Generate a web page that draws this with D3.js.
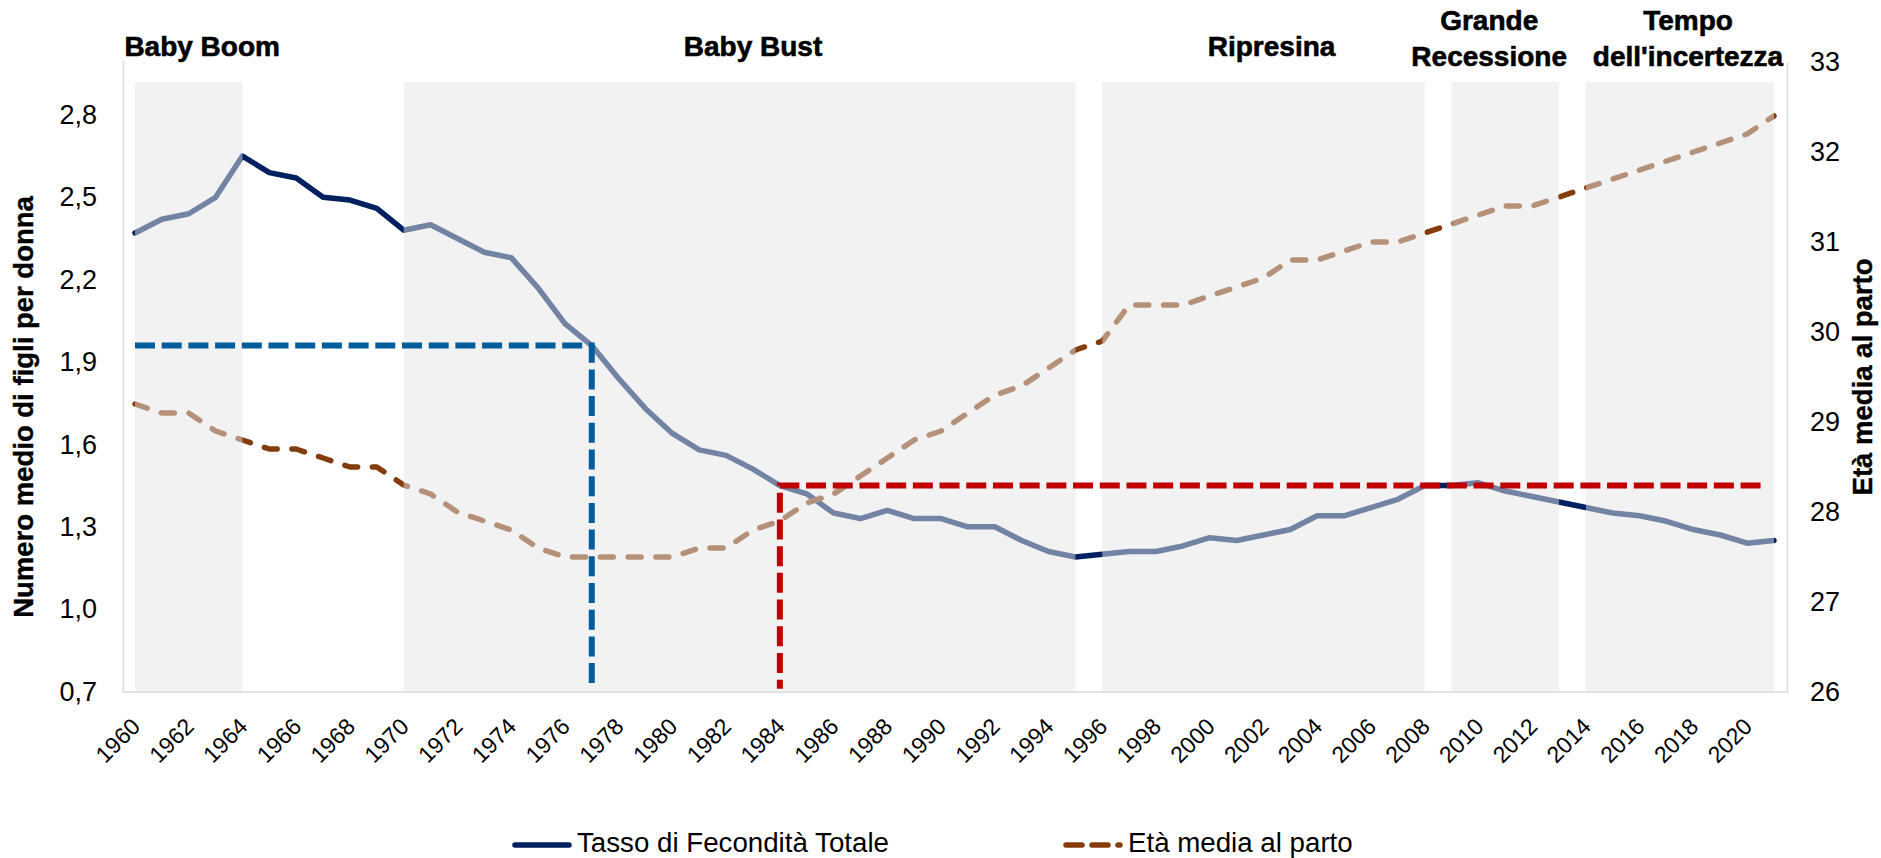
<!DOCTYPE html>
<html>
<head>
<meta charset="utf-8">
<script src="https://cdn.jsdelivr.net/npm/d3@7/dist/d3.min.js"></script>
<style>
  body { margin: 0; background: #fff; }
  svg { display: block; font-family: "Liberation Sans", Arial, sans-serif; }
</style>
</head>
<body>
<div id="chart"></div>
<script>
const years = [1960, 1961, 1962, 1963, 1964, 1965, 1966, 1967, 1968, 1969,
               1970, 1971, 1972, 1973, 1974, 1975, 1976, 1977, 1978, 1979,
               1980, 1981, 1982, 1983, 1984, 1985, 1986, 1987, 1988, 1989,
               1990, 1991, 1992, 1993, 1994, 1995, 1996, 1997, 1998, 1999,
               2000, 2001, 2002, 2003, 2004, 2005, 2006, 2007, 2008, 2009,
               2010, 2011, 2012, 2013, 2014, 2015, 2016, 2017, 2018, 2019,
               2020, 2021];

// Tasso di Fecondità Totale (asse sinistro)
const tfr = [2.37, 2.42, 2.44, 2.50, 2.65, 2.59, 2.57, 2.50, 2.49, 2.46,
             2.38, 2.40, 2.35, 2.30, 2.28, 2.17, 2.04, 1.96, 1.84, 1.73,
             1.64, 1.58, 1.56, 1.51, 1.45, 1.42, 1.35, 1.33, 1.36, 1.33,
             1.33, 1.30, 1.30, 1.25, 1.21, 1.19, 1.20, 1.21, 1.21, 1.23,
             1.26, 1.25, 1.27, 1.29, 1.34, 1.34, 1.37, 1.40, 1.45, 1.45,
             1.46, 1.43, 1.41, 1.39, 1.37, 1.35, 1.34, 1.32, 1.29, 1.27,
             1.24, 1.25];

// Età media al parto (asse destro)
const ages = [29.2, 29.1, 29.1, 28.9, 28.8, 28.7, 28.7, 28.6, 28.5, 28.5,
              28.3, 28.2, 28.0, 27.9, 27.8, 27.6, 27.5, 27.5, 27.5, 27.5,
              27.5, 27.6, 27.6, 27.8, 27.9, 28.1, 28.2, 28.4, 28.6, 28.8,
              28.9, 29.1, 29.3, 29.4, 29.6, 29.8, 29.9, 30.3, 30.3, 30.3,
              30.4, 30.5, 30.6, 30.8, 30.8, 30.9, 31.0, 31.0, 31.1, 31.2,
              31.3, 31.4, 31.4, 31.5, 31.6, 31.7, 31.8, 31.9, 32.0, 32.1,
              32.2, 32.4];

const periodNames = [["Baby Boom"], ["Baby Bust"], ["Ripresina"], ["Grande", "Recessione"], ["Tempo", "dell'incertezza"]];
const periodStart = [1960, 1970, 1996, 2009, 2014];
const periodEnd = [1964, 1995, 2008, 2013, 2021];
const periodLabelYear = [1962.5, 1983, 2002.3, 2010.4, 2017.8];
const periodTop = 2.92;

// linee di riferimento tratteggiate
const refValue = [1.96, 1.45];
const refCorner = [1977, 1984];
const refOther = [1960, 2020.5];
const refColor = ["#005d9c", "#c00000"];

const leftTicks = [0.7, 1.0, 1.3, 1.6, 1.9, 2.2, 2.5, 2.8];
const rightTicks = [26, 27, 28, 29, 30, 31, 32, 33];
const xTicks = years.filter(y => y % 2 === 0);

const seriesNames = ["Tasso di Fecondità Totale", "Età media al parto"];

const W = 1881, H = 858;
const plot = {left: 123, right: 1787, top: 60, bottom: 692};

const svg = d3.select("#chart").append("svg")
    .attr("width", W)
    .attr("height", H);

svg.append("rect").attr("width", W).attr("height", H).attr("fill", "#fff");

const x = d3.scaleLinear().domain([1960, 2021]).range([plot.left + 12, plot.right - 13]);
const yL = d3.scaleLinear().domain([0.7, 3.0]).range([plot.bottom - 0.5, plot.top]);
const yR = d3.scaleLinear().domain([26, 33]).range([plot.bottom, plot.top + 2]);

const fmt = d => d.toFixed(1).replace(".", ",");

// assi
const axL = svg.append("g")
    .attr("transform", `translate(${plot.left},0)`)
    .call(d3.axisLeft(yL).tickValues(leftTicks).tickSize(0).tickPadding(26).tickFormat(fmt));

const axR = svg.append("g")
    .attr("transform", `translate(${plot.right},0)`)
    .call(d3.axisRight(yR).tickValues(rightTicks).tickSize(0).tickPadding(23).tickFormat(d3.format("d")));

[axL, axR].forEach(a => {
    a.select(".domain").attr("stroke", "#d9d9d9").attr("stroke-width", 1.5);
    a.selectAll("text").attr("font-size", 27).attr("fill", "#000")
        .attr("font-family", "'Liberation Sans', Arial, sans-serif");
});

const axB = svg.append("g")
    .attr("transform", `translate(0,${plot.bottom})`)
    .call(d3.axisBottom(x).tickValues(xTicks).tickSize(0).tickFormat(d3.format("d")));
axB.select(".domain").remove();
axB.selectAll("text")
    .attr("x", 0).attr("y", 0).attr("dy", 0)
    .attr("text-anchor", "end")
    .attr("transform", "translate(6,36) rotate(-45)")
    .attr("font-size", 23).attr("fill", "#000")
    .attr("font-family", "'Liberation Sans', Arial, sans-serif");

svg.append("line")
    .attr("x1", plot.left - 1).attr("x2", plot.right)
    .attr("y1", plot.bottom).attr("y2", plot.bottom)
    .attr("stroke", "#d9d9d9").attr("stroke-width", 1.5);

// serie
const lineTfr = d3.line().x((d, i) => x(years[i])).y(d => yL(d));
const lineAge = d3.line().x((d, i) => x(years[i])).y(d => yR(d));

svg.append("path")
    .datum(tfr)
    .attr("d", lineTfr)
    .attr("fill", "none")
    .attr("stroke", "#002060")
    .attr("stroke-width", 5.5)
    .attr("stroke-linejoin", "round")
    .attr("stroke-linecap", "round");

svg.append("path")
    .datum(ages)
    .attr("d", lineAge)
    .attr("fill", "none")
    .attr("stroke", "#843c0c")
    .attr("stroke-width", 5.5)
    .attr("stroke-dasharray", "13,14.8")
    .attr("stroke-linejoin", "round")
    .attr("stroke-linecap", "round");

// fasce dei periodi (sopra le linee, semitrasparenti)
svg.append("g").selectAll("rect")
    .data(periodStart)
    .enter()
    .append("rect")
    .attr("x", (d, i) => x(d))
    .attr("width", (d, i) => x(periodEnd[i]) - x(d))
    .attr("y", yL(periodTop))
    .attr("height", plot.bottom - yL(periodTop))
    .attr("fill", "#e5e5e5")
    .attr("opacity", 0.5);

// linee di riferimento
refValue.forEach((v, i) => {
    svg.append("path")
        .attr("d", `M${x(refOther[i])},${yL(v)}H${x(refCorner[i])}V${yL(0.71)}`)
        .attr("fill", "none")
        .attr("stroke", refColor[i])
        .attr("stroke-width", 6)
        .attr("stroke-dasharray", "20,6.7");
});

// etichette dei periodi
const labels = svg.append("g")
    .attr("font-size", 28)
    .attr("font-weight", "bold")
    .attr("text-anchor", "middle")
    .attr("fill", "#000")
    .attr("stroke", "#000")
    .attr("stroke-width", 0.6);

periodNames.forEach((lines, i) => {
    const t = labels.append("text")
        .attr("x", x(periodLabelYear[i]))
        .attr("y", lines.length > 1 ? 30 : 56);
    lines.forEach((l, j) => {
        t.append("tspan")
            .attr("x", x(periodLabelYear[i]))
            .attr("dy", j === 0 ? 0 : 36)
            .text(l);
    });
});

// titoli assi
svg.append("text")
    .attr("transform", "translate(33,407) rotate(-90)")
    .attr("text-anchor", "middle")
    .attr("font-size", 27.5)
    .attr("font-weight", "bold")
    .attr("stroke", "#000")
    .attr("stroke-width", 0.4)
    .text("Numero medio di figli per donna");

svg.append("text")
    .attr("transform", "translate(1872,377) rotate(-90)")
    .attr("text-anchor", "middle")
    .attr("font-size", 27.5)
    .attr("font-weight", "bold")
    .attr("stroke", "#000")
    .attr("stroke-width", 0.4)
    .text("Età media al parto");

// legenda
const legend = svg.append("g");
legend.append("line")
    .attr("x1", 515).attr("x2", 569).attr("y1", 845).attr("y2", 845)
    .attr("stroke", "#002060").attr("stroke-width", 5.5).attr("stroke-linecap", "round");
legend.append("text")
    .attr("x", 577).attr("y", 852)
    .attr("font-size", 27.7)
    .text(seriesNames[0]);

legend.append("line")
    .attr("x1", 1066).attr("x2", 1120).attr("y1", 845).attr("y2", 845)
    .attr("stroke", "#843c0c").attr("stroke-width", 5.5).attr("stroke-linecap", "round")
    .attr("stroke-dasharray", "16,10");
legend.append("text")
    .attr("x", 1128).attr("y", 852)
    .attr("font-size", 27.7)
    .text(seriesNames[1]);
</script>
</body>
</html>
